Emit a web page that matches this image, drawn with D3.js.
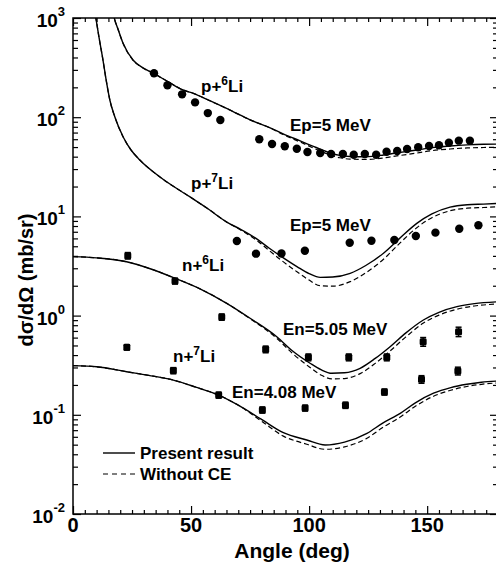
<!DOCTYPE html>
<html>
<head>
<meta charset="utf-8">
<script src="https://cdn.jsdelivr.net/npm/d3@7"></script>
<style>
  body { margin: 0; background: #fff; }
  svg { display: block; font-family: "Liberation Sans", Arial, sans-serif; font-weight: bold; }
</style>
</head>
<body>
<div id="chart"></div>
<script>
// ---- values ----

// p+6Li, Ep=5 MeV
var p6CurveAngles = [17, 17.5, 19, 21.2, 25.4, 30, 33.9, 40, 46.6, 51, 57, 67.8, 75, 83.5, 89, 96, 103, 109, 113, 117.4, 124, 131.5, 138, 145.6, 152, 159.7, 167, 173.9, 180];
var p6Present = [1150, 1000, 780, 556, 377, 310, 278, 230, 188, 174, 150, 114, 94, 78, 68, 58, 49.5, 43.5, 41.2, 40.2, 40.0, 41.6, 44, 46.7, 49.3, 51.3, 52.6, 53.3, 53.5];
var p6NoCE = [1150, 1000, 780, 556, 377, 310, 278, 230, 188, 174, 150, 114, 94, 78, 67, 56.5, 47.5, 41.5, 39, 37.8, 37.5, 38.8, 41, 43.5, 46, 47.8, 49, 49.5, 49.7];
var p6DataAngles = [34.3, 40, 46.2, 51.7, 57.1, 62.4, 78.9, 84.3, 89.7, 94.8, 99.3, 104.7, 109.3, 114.3, 118.9, 123.6, 128.4, 132.8, 137.3, 141.5, 146.2, 150.8, 155, 159.2, 163.4, 168.1];
var p6Data = [277, 210, 170, 141, 110, 93.7, 59.9, 53.7, 50.9, 48.1, 44.6, 43.6, 42.6, 42.6, 41.9, 42.6, 41.9, 44.9, 45.6, 47.8, 49.7, 51.3, 52.1, 55.3, 58.0, 58.0];

// p+7Li, Ep=5 MeV
var p7CurveAngles = [9.0, 9.6, 11, 12.7, 14, 15.6, 17.7, 21.2, 24.5, 28.3, 36.7, 49.4, 57, 65, 71, 77.5, 83, 88.3, 95, 100, 104.7, 110, 117.4, 124, 131.5, 138, 145.6, 152, 159.7, 167, 173.9, 180];
var p7Present = [1250, 1030, 640, 377, 240, 149, 101, 63.6, 47, 37, 25.1, 15.8, 12, 8.8, 7.4, 6.0, 4.8, 3.93, 3.1, 2.65, 2.43, 2.45, 2.67, 3.2, 4.25, 5.9, 8.5, 10.6, 12.4, 13.1, 13.3, 13.5];
var p7NoCE = [1250, 1030, 640, 377, 240, 149, 101, 63.6, 47, 37, 25.1, 15.8, 12, 8.8, 7.3, 5.8, 4.55, 3.6, 2.75, 2.28, 2.0, 1.98, 2.2, 2.7, 3.7, 5.25, 7.7, 9.7, 11.4, 12.1, 12.3, 12.5];
var p7DataAngles = [69.4, 77.5, 88.3, 98.2, 117.2, 126.4, 136.1, 145.2, 153.5, 163.6, 171.7];
var p7Data = [5.65, 4.21, 4.23, 4.51, 5.43, 5.69, 5.78, 6.34, 6.86, 7.52, 8.13];

// n+6Li, En=5.05 MeV
var n6CurveAngles = [0, 10, 22.7, 33, 43.2, 54, 65.1, 75, 86.3, 93, 100.4, 105, 109.6, 115, 121.6, 128, 134.3, 141, 148.4, 155, 162.6, 170, 180];
var n6Present = [3.93, 3.82, 3.49, 2.95, 2.38, 1.85, 1.33, 0.94, 0.612, 0.44, 0.331, 0.285, 0.262, 0.265, 0.294, 0.37, 0.486, 0.67, 0.903, 1.08, 1.23, 1.32, 1.38];
var n6NoCE = [3.93, 3.82, 3.49, 2.95, 2.38, 1.85, 1.33, 0.93, 0.59, 0.415, 0.30, 0.252, 0.23, 0.232, 0.26, 0.33, 0.44, 0.61, 0.84, 1.01, 1.16, 1.25, 1.31];
var n6DataAngles = [23.2, 43.2, 63.0, 81.6, 99.7, 116.8, 132.9, 148.3, 163.3];
var n6Data = [4.02, 2.23, 0.968, 0.457, 0.380, 0.380, 0.380, 0.546, 0.689];
var n6Err = [0.3, 0.15, 0.07, 0.035, 0.03, 0.03, 0.03, 0.055, 0.075];

// n+7Li, En=4.08 MeV
var n7CurveAngles = [0, 10, 22.7, 32, 42.5, 52, 61.7, 70, 80.2, 89.1, 99, 106.8, 115, 124.5, 131, 138.6, 145, 152.7, 160, 166.8, 173, 180];
var n7Present = [0.313, 0.305, 0.272, 0.25, 0.224, 0.19, 0.158, 0.125, 0.0887, 0.066, 0.0557, 0.0496, 0.053, 0.065, 0.082, 0.1035, 0.132, 0.165, 0.188, 0.203, 0.213, 0.219];
var n7NoCE = [0.313, 0.305, 0.272, 0.25, 0.224, 0.19, 0.158, 0.125, 0.085, 0.061, 0.0505, 0.0449, 0.0475, 0.058, 0.074, 0.095, 0.122, 0.154, 0.177, 0.193, 0.203, 0.21];
var n7DataAngles = [22.8, 42.5, 61.7, 80.2, 98.3, 115.4, 131.9, 147.6, 163.0];
var n7Data = [0.479, 0.279, 0.158, 0.112, 0.117, 0.125, 0.170, 0.228, 0.277];
var n7Err = [0.03, 0.02, 0.011, 0.008, 0.008, 0.009, 0.012, 0.02, 0.025];

var xMajor = [0, 50, 100, 150];
var yMajor = [0.01, 0.1, 1, 10, 100, 1000];
var yExponents = ["-2", "-1", "0", "1", "2", "3"];

// set the dimensions of the graph
var margin = {top: 18, left: 73},
  width = 425,
  height = 496;

var svg = d3.select("#chart")
  .append("svg")
    .attr("width", 496)
    .attr("height", 568)
  .append("g")
    .attr("transform", "translate(" + margin.left + "," + margin.top + ")");

var x = d3.scaleLinear().domain([0, 180]).range([0, width]);
var y = d3.scaleLog().domain([0.01, 1000]).range([height, 0]);

var xMinor = d3.range(0, 181, 5).filter(function(d) { return xMajor.indexOf(d) < 0; });
var yMinor = [];
yMajor.slice(0, -1).forEach(function(base) {
  for (var k = 2; k <= 9; k++) yMinor.push(base * k);
});

// ticks on all four sides, pointing inward
function tickAxis(axis, values, size, transform) {
  var g = svg.append("g")
    .attr("transform", transform || null)
    .call(axis.tickValues(values).tickSize(size).tickFormat(""));
  g.select(".domain").remove();
  g.selectAll(".tick line").attr("stroke", "#000").attr("stroke-width", 1.2);
}
tickAxis(d3.axisBottom(x), xMinor, -4, "translate(0," + height + ")");
tickAxis(d3.axisBottom(x), xMajor, -8, "translate(0," + height + ")");
tickAxis(d3.axisTop(x), xMinor, -4);
tickAxis(d3.axisTop(x), xMajor, -8);
tickAxis(d3.axisLeft(y), yMinor, -5);
tickAxis(d3.axisLeft(y), yMajor, -8);
tickAxis(d3.axisRight(y), yMinor, -5, "translate(" + width + ",0)");
tickAxis(d3.axisRight(y), yMajor, -8, "translate(" + width + ",0)");

// frame
svg.append("rect")
  .attr("width", width)
  .attr("height", height)
  .attr("fill", "none")
  .attr("stroke", "#000")
  .attr("stroke-width", 1.5);

// x tick labels
svg.selectAll(".xlab")
  .data(xMajor)
  .enter()
  .append("text")
    .attr("x", function(d) { return x(d); })
    .attr("y", height + 18)
    .attr("text-anchor", "middle")
    .style("font-size", "20px")
    .text(function(d) { return d; });

// y tick labels as 10 with superscript exponent
var ylab = svg.selectAll(".ylab")
  .data(yMajor)
  .enter()
  .append("text")
    .attr("x", -8)
    .attr("y", function(d) { return y(d) + 9; })
    .attr("text-anchor", "end")
    .style("font-size", "19px");
ylab.append("tspan").text("10");
ylab.append("tspan")
  .attr("dy", -11)
  .style("font-size", "13px")
  .text(function(d, i) { return yExponents[i]; });

// axis titles
svg.append("text")
  .attr("x", 219)
  .attr("y", 540)
  .attr("text-anchor", "middle")
  .style("font-size", "21px")
  .text("Angle (deg)");
svg.append("text")
  .attr("transform", "translate(-40," + 262 + ") rotate(-90)")
  .attr("text-anchor", "middle")
  .style("font-size", "20px")
  .text("d\u03c3/d\u03a9 (mb/sr)");

// curves
svg.append("clipPath")
  .attr("id", "plot-clip")
  .append("rect")
    .attr("width", width)
    .attr("height", height);

var line = d3.line()
  .x(function(d) { return x(d[0]); })
  .y(function(d) { return y(d[1]); })
  .curve(d3.curveMonotoneX);

var curves = [
  [p6CurveAngles, p6Present, p6NoCE],
  [p7CurveAngles, p7Present, p7NoCE],
  [n6CurveAngles, n6Present, n6NoCE],
  [n7CurveAngles, n7Present, n7NoCE]
];
var curveG = svg.append("g").attr("clip-path", "url(#plot-clip)");
curves.forEach(function(c) {
  curveG.append("path")
    .attr("d", line(d3.zip(c[0], c[2])))
    .attr("fill", "none")
    .attr("stroke", "#000")
    .attr("stroke-width", 1.2)
    .attr("stroke-dasharray", "5,3");
  curveG.append("path")
    .attr("d", line(d3.zip(c[0], c[1])))
    .attr("fill", "none")
    .attr("stroke", "#000")
    .attr("stroke-width", 1.4);
});

// proton data, plain dots
[[p6DataAngles, p6Data], [p7DataAngles, p7Data]].forEach(function(s) {
  svg.selectAll()
    .data(d3.zip(s[0], s[1]))
    .enter()
    .append("circle")
      .attr("cx", function(d) { return x(d[0]); })
      .attr("cy", function(d) { return y(d[1]); })
      .attr("r", 4.2)
      .attr("fill", "#000");
});

// neutron data, dots with error bars
[[n6DataAngles, n6Data, n6Err], [n7DataAngles, n7Data, n7Err]].forEach(function(s) {
  var pts = svg.selectAll()
    .data(d3.zip(s[0], s[1], s[2]))
    .enter()
    .append("g")
      .attr("transform", function(d) { return "translate(" + x(d[0]) + ",0)"; });
  pts.append("line")
    .attr("y1", function(d) { return y(d[1] - d[2]); })
    .attr("y2", function(d) { return y(d[1] + d[2]); })
    .attr("stroke", "#000")
    .attr("stroke-width", 1.5);
  [1, -1].forEach(function(sign) {
    pts.append("line")
      .attr("x1", -3).attr("x2", 3)
      .attr("y1", function(d) { return y(d[1] + sign * d[2]); })
      .attr("y2", function(d) { return y(d[1] + sign * d[2]); })
      .attr("stroke", "#000")
      .attr("stroke-width", 1.5);
  });
  pts.append("rect")
    .attr("x", -3.5).attr("width", 7)
    .attr("y", function(d) { return y(d[1]) - 3.5; })
    .attr("height", 7)
    .attr("rx", 1.5)
    .attr("fill", "#000");
});

// reaction labels (absolute page coords shifted into plot group)
function label(px, py, parts) {
  var t = svg.append("text")
    .attr("x", px - margin.left)
    .attr("y", py - margin.top)
    .style("font-size", "17px");
  var shift = 0;
  parts.forEach(function(p) {
    var sup = p.charAt(0) === "^";
    var dy = sup ? -7 - shift : -shift;
    shift = sup ? -7 : 0;
    t.append("tspan")
      .attr("dy", dy)
      .style("font-size", sup ? "12px" : "17px")
      .text(sup ? p.slice(1) : p);
  });
}
label(201, 92, ["p+", "^6", "Li"]);
label(290, 131, ["Ep=5 MeV"]);
label(191, 189, ["p+", "^7", "Li"]);
label(290, 231, ["Ep=5 MeV"]);
label(182, 271, ["n+", "^6", "Li"]);
label(283, 335, ["En=5.05 MeV"]);
label(173, 362, ["n+", "^7", "Li"]);
label(232, 398, ["En=4.08 MeV"]);

// legend
var legend = svg.append("g")
  .attr("transform", "translate(" + (103 - margin.left) + "," + (453 - margin.top) + ")");
legend.append("line")
  .attr("x1", 0).attr("x2", 32)
  .attr("stroke", "#000").attr("stroke-width", 1.4);
legend.append("text")
  .attr("x", 37).attr("y", 6)
  .style("font-size", "17px")
  .text("Present result");
legend.append("line")
  .attr("x1", 0).attr("x2", 32)
  .attr("y1", 21).attr("y2", 21)
  .attr("stroke", "#000").attr("stroke-width", 1.2)
  .attr("stroke-dasharray", "5,4");
legend.append("text")
  .attr("x", 37).attr("y", 27)
  .style("font-size", "17px")
  .text("Without CE");
</script>
</body>
</html>
